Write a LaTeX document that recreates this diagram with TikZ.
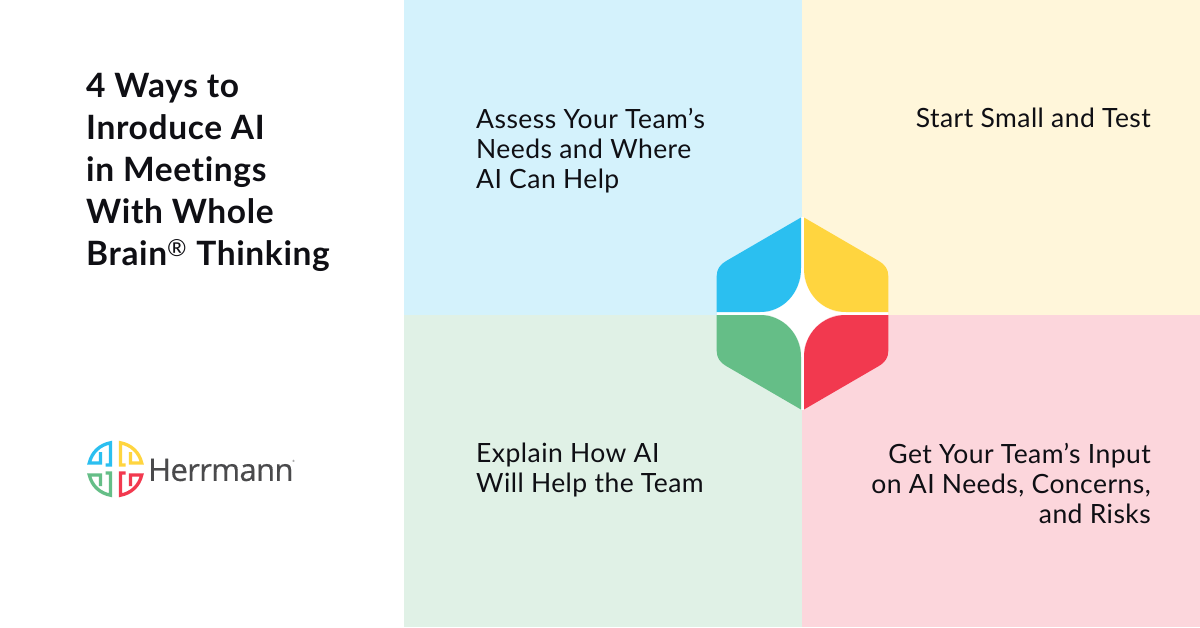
\documentclass[tikz,border=0pt]{standalone}
\usepackage{fontspec}
\setmainfont{Lato}[LetterSpace=1.7,Ligatures=CommonOff]
\newfontfamily\titlefont{Lato}[LetterSpace=1.9,Ligatures=CommonOff]
\newfontfamily\logofont{Open Sans}[LetterSpace=-2.0,FakeBold=0.4]
\definecolor{bgblue}{HTML}{D4F2FC}
\definecolor{bgyellow}{HTML}{FFF6DA}
\definecolor{bggreen}{HTML}{E0F1E6}
\definecolor{bgpink}{HTML}{FCD6DC}
\definecolor{cblue}{HTML}{2BBFF0}
\definecolor{cyellow}{HTML}{FFD53F}
\definecolor{cgreen}{HTML}{65BE87}
\definecolor{cred}{HTML}{F2394F}
\definecolor{ink}{HTML}{0F0F14}
\definecolor{logogray}{HTML}{4A4A4C}
\tikzset{
  bodytext/.style={inner sep=0pt,font=\fontsize{26.5}{30}\selectfont,text=ink},
  titletext/.style={inner sep=0pt,align=left,anchor=north west,font=\titlefont\fontsize{33.5}{42}\bfseries\selectfont,text=ink},
  knot/.style={line width=3.3pt,line cap=butt,line join=miter}
}
\begin{document}
\begin{tikzpicture}[x=1pt,y=-1pt]
\useasboundingbox (0,0) rectangle (1200,627);
\fill[white] (0,0) rectangle (1200,627);
\fill[bgblue] (404,0) rectangle (802,315);
\fill[bgyellow] (802,0) rectangle (1200,315);
\fill[bggreen] (404,315) rectangle (802,627);
\fill[bgpink] (802,315) rectangle (1200,627);
% hexagon white backing
\fill[white] (802.5,262) .. controls (802.5,292) and (785,313.5) .. (755,313.5) .. controls (785,313.5) and (802.5,335) .. (802.5,362) .. controls (802.5,335) and (820,313.5) .. (850,313.5) .. controls (820,313.5) and (802.5,292) .. (802.5,262) -- cycle;
\fill[white] (801,217) rectangle (804,410);
\fill[white] (716.7,312) rectangle (888.3,315);
\fill[cblue] (801,217.5) -- (727,260.5) .. controls (720,264.5) and (716.7,269) .. (716.7,276) -- (716.7,312) -- (760,312) .. controls (783,312) and (801,293) .. (801,268) -- cycle;
\fill[cyellow] (804,217.5) -- (878,260.5) .. controls (885,264.5) and (888.3,269) .. (888.3,276) -- (888.3,312) -- (846,312) .. controls (822,312) and (804,293) .. (804,268) -- cycle;
\fill[cgreen] (801,409.5) -- (727,366.5) .. controls (720,362.5) and (716.7,358) .. (716.7,351) -- (716.7,315) -- (760,315) .. controls (783,315) and (801,334) .. (801,357) -- cycle;
\fill[cred] (804,409.5) -- (878,366.5) .. controls (885,362.5) and (888.3,358) .. (888.3,351) -- (888.3,315) -- (846,315) .. controls (822,315) and (804,334) .. (804,357) -- cycle;
% texts
\node[titletext] (title) at (86,73) {4 Ways to\\Inroduce AI\\in Meetings\\With Whole\\Brain\textsuperscript{\textnormal{®}} Thinking};
\node[bodytext,align=left,anchor=north west] (t1) at (476,108) {Assess Your Team’s\\Needs and Where\\AI Can Help};
\node[bodytext,align=right,anchor=north east] (t2) at (1151,108) {Start Small and Test};
\node[bodytext,align=left,anchor=north west] (t3) at (476,443) {Explain How AI\\Will Help the Team};
\node[bodytext,align=right,anchor=north east] (t4) at (1151,443) {Get Your Team’s Input\\on AI Needs, Concerns,\\and Risks};
% logo
\begin{scope}[shift={(115.5,469)}]
\foreach \sx/\sy/\c in {-1/-1/cblue,1/-1/cyellow,-1/1/cgreen,1/1/cred}{
  \begin{scope}[xscale=\sx,yscale=\sy]
    \draw[knot,\c] (15,17) -- (15,6) -- (26.2,6) .. controls (23.6,17) and (15.6,24.2) .. (5,26.2) -- (5,4) -- (10,4);
  \end{scope}
}
\end{scope}
\node[inner sep=0pt,anchor=west,font=\logofont\fontsize{31}{31}\selectfont,text=logogray] (logo) at (148,470) {Herrmann};
\node[inner sep=0pt,font=\fontsize{3}{3}\selectfont,text=logogray] (logoreg) at (293.5,461) {®};
\end{tikzpicture}
\end{document}
